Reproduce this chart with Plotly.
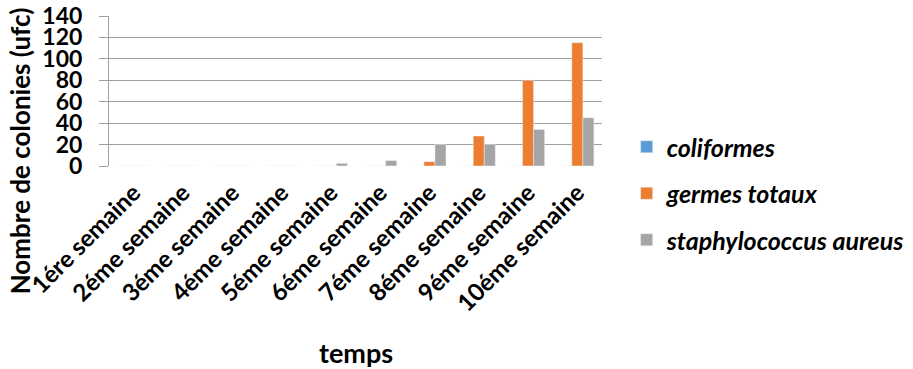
import plotly.graph_objects as go

categories = ["1ére semaine", "2éme semaine", "3éme semaine", "4éme semaine", "5éme semaine",
              "6éme semaine", "7éme semaine", "8éme semaine", "9éme semaine", "10éme semaine"]
coliformes = [0, 0, 0, 0, 0, 0, 0, 0, 0, 0]
germes_totaux = [0, 0, 0, 0, 0, 0, 4, 28, 80, 115]
staphylococcus = [0, 0, 0, 0, 2.5, 5, 20, 20, 34, 45]
y_ticks = [0, 20, 40, 60, 80, 100, 120, 140]

FONT = "Lato"
fig = go.Figure()
fig.add_bar(x=categories, y=coliformes, name="coliformes", marker_color="#5B9BD5", legendgroup="a")
fig.add_bar(x=categories, y=germes_totaux, name="germes totaux", marker_color="#ED7D31", legendgroup="b")
fig.add_bar(x=categories, y=staphylococcus, name="staphylococcus aureus", marker_color="#A5A5A5", legendgroup="c")

fig.update_layout(
    width=913, height=369,
    margin=dict(l=109, r=311, t=16, b=203, autoexpand=False),
    paper_bgcolor="white", plot_bgcolor="white",
    barmode="group", bargap=0.33, bargroupgap=0,
    font=dict(family=FONT, size=22, color="black"),
    showlegend=True,
    legend=dict(x=1.05, y=0.28, xanchor="left", yanchor="top", tracegroupgap=11,
                font=dict(family=FONT, size=25, color="black", style="italic", weight="bold"),
                bgcolor="rgba(0,0,0,0)"),
)
fig.update_xaxes(
    tickangle=-45, tickfont=dict(family=FONT, size=24, weight="bold"),
    showline=False, showgrid=False, ticks="", automargin=False, ticklabelstandoff=7,
)
fig.update_yaxes(
    range=[0, 140], tickvals=y_ticks, showgrid=True, gridcolor="#A0A0A0", gridwidth=1,
    showline=True, linecolor="#A0A0A0", linewidth=1,
    ticks="outside", ticklen=9, tickcolor="#A0A0A0", ticklabelstandoff=12,
    tickfont=dict(family=FONT, size=23, weight="bold"),
    zeroline=False, automargin=False,
)
fig.add_annotation(text="<b>Nombre de colonies (ufc)</b>", xref="paper", yref="paper",
                   x=-0.18, y=0.1, xanchor="center", yanchor="middle", textangle=-90,
                   showarrow=False, font=dict(family=FONT, size=26))
fig.add_annotation(text="<b>temps</b>", xref="paper", yref="paper",
                   x=0.5, y=-1.245, xanchor="center", yanchor="middle",
                   showarrow=False, font=dict(family=FONT, size=27))
fig.write_html("out.html", config={"displayModeBar": False},
               post_script="document.body.style.margin='0';")
